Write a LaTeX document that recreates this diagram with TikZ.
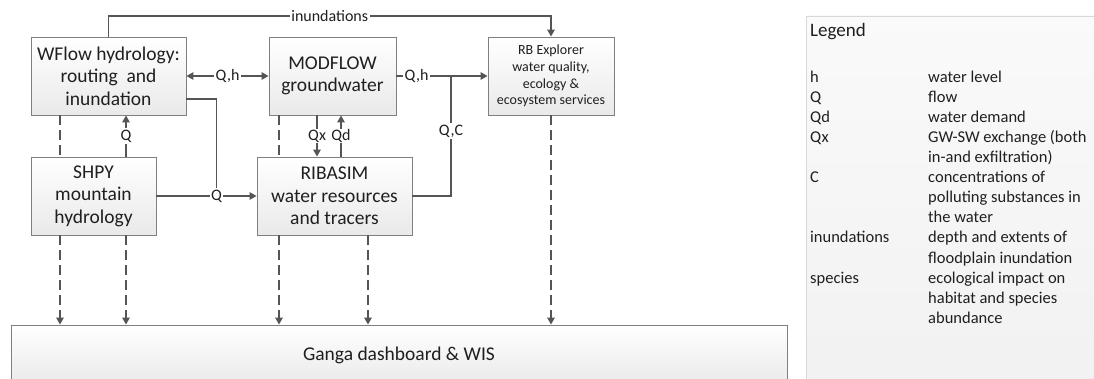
\documentclass[tikz,border=0pt]{standalone}
\usepackage{fontspec}
\setmainfont{Carlito}
\usepackage{xcolor}
\usetikzlibrary{arrows.meta,shadows}

\definecolor{linegray}{HTML}{555555}
\definecolor{boxborder}{HTML}{7F7F7F}
\definecolor{txtgray}{HTML}{1F1F1F}

\tikzset{
  model/.style={draw=boxborder, line width=0.9pt, top color=white, bottom color=gray!17,
    drop shadow={opacity=0.25, shadow xshift=1.2pt, shadow yshift=-1.2pt},
    align=center, text=txtgray, inner sep=0pt, font=\fontsize{19.5}{22.5}\selectfont},
  smallmodel/.style={model, font=\fontsize{14}{16.7}\selectfont},
  tip/.tip={Triangle[length=7pt,width=7.5pt]},
  flow/.style={draw=linegray, line width=1.4pt, -tip},
  link/.style={draw=linegray, line width=1.4pt},
  feed/.style={flow, dash pattern=on 10pt off 5pt},
  feedline/.style={link, dash pattern=on 10pt off 5pt},
  lbl/.style={fill=white, inner sep=1.5pt, text=txtgray, font=\fontsize{16}{18}\selectfont},
  legtxt/.style={anchor=base west, inner sep=0pt, text=txtgray, font=\fontsize{16.5}{20}\selectfont}
}

\begin{document}
\begin{tikzpicture}[x=1pt, y=-1pt]
    \clip (0,0) rectangle (1094,379);
    \fill[white] (0,0) rectangle (1094,379);

    % legend panel
    \shade[top color=gray!4, bottom color=gray!11, draw=gray!30, line width=0.8pt] (806,16) rectangle (1110,400);
    \node[legtxt, font=\fontsize{19}{22}\selectfont] (legtitle) at (810,37) {Legend};
    \foreach \k/\v [count=\i from 0] in {h/water level, Q/flow, Qd/water demand,
        Qx/GW-SW exchange (both, /in-and exfiltration), C/concentrations of,
        /polluting substances in, /the water, inundations/depth and extents of,
        /floodplain inundation, species/ecological impact on, /habitat and species, /abundance}
    {
        \node[legtxt] at (810,{83+20*\i}) {\k};
        \node[legtxt] at (928,{83+20*\i}) {\v};
    }

    % models
    \node[model, minimum width=155pt, minimum height=78pt] (wflow) at (108.5,76) {WFlow hydrology:\\routing\ \ and\\inundation};
    \node[model, minimum width=127pt, minimum height=78pt] (modflow) at (332.5,76) {MODFLOW\\groundwater};
    \node[smallmodel, minimum width=126pt, minimum height=78pt] (rbx) at (551,76) {RB Explorer\\water quality,\\ecology \&\\ecosystem services};
    \node[model, minimum width=125pt, minimum height=78pt] (shpy) at (93.5,196) {SHPY\\mountain\\hydrology};
    \node[model, minimum width=155pt, minimum height=78pt] (ribasim) at (334.5,196) {RIBASIM\\water resources\\and tracers};
    \node[model, minimum width=776pt, minimum height=60pt] (ganga) at (399,355) {Ganga dashboard \& WIS};

    \coordinate (top) at (0,16);
    \coordinate (qcjoin) at (451,76);

    % exchanges
    \draw[flow] (wflow.north) -- (wflow.north |- top) -| node[lbl, pos=0.25] {inundations} (rbx.north);
    \draw[flow, tip-tip] (wflow.east) -- node[lbl] {Q,h} (modflow.west);
    \draw[flow] (modflow.east) -- node[lbl, pos=0.22] {Q,h} (rbx.west);
    \draw[flow] (shpy.east) -- node[lbl, pos=0.6] (qlbl) {Q} (ribasim.west);
    \draw[link] ([yshift=-23pt]wflow.east) -| (qlbl.north);
    \draw[flow] ([xshift=32.5pt]shpy.north) -- node[lbl] {Q} ([xshift=32.5pt]shpy.north |- wflow.south);
    \draw[flow] ([xshift=-15.5pt]modflow.south) -- node[lbl, inner sep=0.5pt] {Qx} ([xshift=-15.5pt]modflow.south |- ribasim.north);
    \draw[flow] ([xshift=6.5pt]ribasim.north) -- node[lbl, inner sep=0.5pt] {Qd} ([xshift=6.5pt]ribasim.north |- modflow.south);
    \draw[link] (ribasim.east) -| node[lbl, pos=0.77] {Q,C} (qcjoin);

    % to dashboard
    \draw[feedline] ([xshift=-33.5pt]shpy.north |- wflow.south) -- ([xshift=-33.5pt]shpy.north);
    \draw[feed] ([xshift=-33.5pt]shpy.south) -- ([xshift=-33.5pt]shpy.south |- ganga.north);
    \draw[feed] ([xshift=32.5pt]shpy.south) -- ([xshift=32.5pt]shpy.south |- ganga.north);
    \draw[feedline] ([xshift=-55.5pt]ribasim.north |- modflow.south) -- ([xshift=-55.5pt]ribasim.north);
    \draw[feed] ([xshift=-55.5pt]ribasim.south) -- ([xshift=-55.5pt]ribasim.south |- ganga.north);
    \draw[feed] ([xshift=33.5pt]ribasim.south) -- ([xshift=33.5pt]ribasim.south |- ganga.north);
    \draw[feed] (rbx.south) -- (rbx.south |- ganga.north);
\end{tikzpicture}
\end{document}
